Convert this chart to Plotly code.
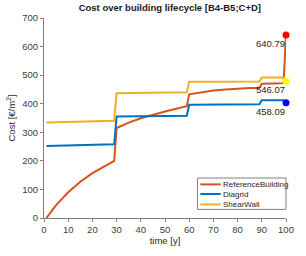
import plotly.graph_objects as go

years_ref = [1, 5, 10, 15, 20, 25, 29, 30, 35, 40, 45, 50, 55, 59, 60, 65, 70, 75, 80, 85, 89, 90, 95, 99, 100]
cost_ref = [0, 45, 90, 127, 157, 181, 200, 315, 334, 349, 362, 373, 383, 391, 433, 440, 446, 450, 453, 455, 455, 470, 471, 472, 640.79]

years_step = [1, 29, 30, 59, 60, 89, 90, 99, 100]
cost_diagrid = [252, 258, 355, 358, 396, 398, 412, 412, 403]
cost_shear = [334, 340, 437, 440, 477, 478, 492, 492, 479]

end_values = [640.79, 479, 403]
end_labels = ["640.79", "546.07", "458.09"]
end_colors = ["#FF0000", "#FFFF00", "#0000FF"]

series_names = ["ReferenceBuilding", "Diagrid", "ShearWall"]
series_colors = ["#D95319", "#0072BD", "#EDB120"]

font = "Liberation Sans, Arial, sans-serif"

fig = go.Figure()
for name, xs, ys, col in zip(series_names, [years_ref, years_step, years_step],
                             [cost_ref, cost_diagrid, cost_shear], series_colors):
    fig.add_trace(go.Scatter(x=xs, y=ys, mode="lines", name=name, showlegend=False,
                             line=dict(color=col, width=2)))
fig.add_trace(go.Scatter(x=[100] * 3, y=end_values, mode="markers", showlegend=False,
                         marker=dict(color=end_colors, size=7), cliponaxis=False))

for v, lab in zip(end_values, end_labels):
    fig.add_annotation(x=100, y=v, text=lab, showarrow=False, xanchor="right", yanchor="top",
                       xshift=1, yshift=-1, font=dict(size=9.5, color="#262626", family=font))

# compact legend box (MATLAB style)
fig.add_shape(type="rect", xref="paper", yref="paper", x0=0.634, x1=1.0, y0=0.043, y1=0.2,
              line=dict(color="#808080", width=1), fillcolor="white", layer="above")
row_y = [0.168, 0.12, 0.068]
for name, col, ry in zip(series_names, series_colors, row_y):
    fig.add_shape(type="line", xref="paper", yref="paper", x0=0.646, x1=0.73, y0=ry, y1=ry,
                  line=dict(color=col, width=2), layer="above")
    fig.add_annotation(x=0.732, y=ry, xref="paper", yref="paper", text=name, showarrow=False,
                       xanchor="left", yanchor="middle",
                       font=dict(size=8, color="#262626", family=font))

axis_common = dict(showline=True, linecolor="#808080", linewidth=1, ticks="outside",
                   ticklen=3, tickcolor="#808080", showgrid=False, zeroline=False,
                   tickfont=dict(size=9.5, color="#404040", family=font))

fig.update_layout(
    width=306, height=256,
    margin=dict(l=39, r=13, t=16, b=30),
    paper_bgcolor="white", plot_bgcolor="white",
    showlegend=False,
    title=dict(text="<b>Cost over building lifecycle [B4-B5;C+D]</b>", x=0.555, xanchor="center",
               y=0.982, yanchor="top", font=dict(size=9.5, color="#1a1a1a", family=font)),
    xaxis=dict(range=[0, 100], tickvals=list(range(0, 101, 10)),
               title=dict(text="time [y]", font=dict(size=9.5, color="#262626", family=font), standoff=2),
               **axis_common),
    yaxis=dict(range=[0, 700], tickvals=list(range(0, 701, 100)),
               title=dict(text="Cost [€/m<sup>2</sup>]", font=dict(size=9.5, color="#262626", family=font), standoff=4),
               **axis_common),
)

fig.write_html("out.html", config={"displayModeBar": False},
               post_script="document.body.style.margin='0';document.body.style.overflow='hidden';"
                           "document.documentElement.style.overflow='hidden';")
